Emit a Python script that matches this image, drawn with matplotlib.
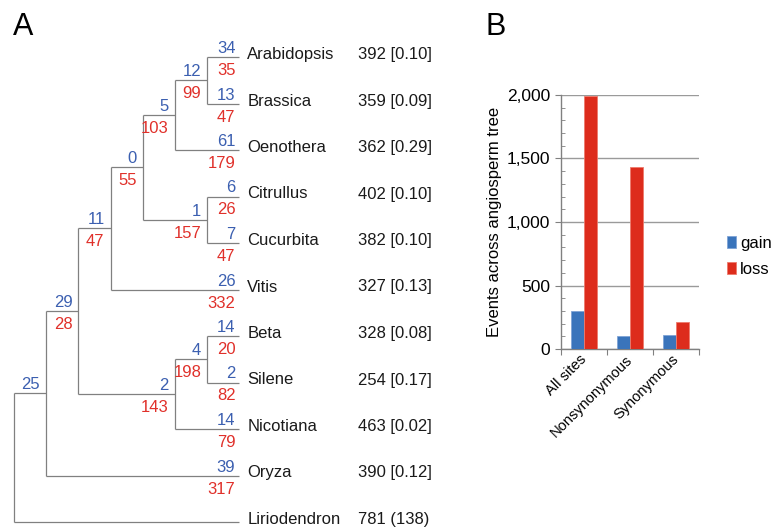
import matplotlib
matplotlib.use("Agg")
import matplotlib.pyplot as plt
from matplotlib.transforms import ScaledTranslation

plt.rcParams["font.family"] = ["Liberation Sans", "DejaVu Sans"]

# ---- panel A data: cladogram with gain / loss per branch ----
leaves = ["Arabidopsis", "Brassica", "Oenothera", "Citrullus", "Cucurbita", "Vitis",
          "Beta", "Silene", "Nicotiana", "Oryza", "Liriodendron"]
leaf_counts = ["392 [0.10]", "359 [0.09]", "362 [0.29]", "402 [0.10]", "382 [0.10]",
               "327 [0.13]", "328 [0.08]", "254 [0.17]", "463 [0.02]", "390 [0.12]",
               "781 (138)"]
leaf_gain = [34, 13, 61, 6, 7, 26, 14, 2, 14, 39, None]
leaf_loss = [35, 47, 179, 26, 47, 332, 20, 82, 79, 317, None]

# internal nodes: name -> (children, gain, loss)
clades = {
    "n1": (("Arabidopsis", "Brassica"), 12, 99),
    "n2": (("n1", "Oenothera"), 5, 103),
    "n3": (("Citrullus", "Cucurbita"), 1, 157),
    "n4": (("n2", "n3"), 0, 55),
    "n5": (("n4", "Vitis"), 11, 47),
    "n6": (("Beta", "Silene"), 4, 198),
    "n7": (("n6", "Nicotiana"), 2, 143),
    "n8": (("n5", "n7"), 29, 28),
    "n9": (("n8", "Oryza"), 25, None),
    "root": (("n9", "Liriodendron"), None, None),
}

# ---- panel B data ----
categories = ["All sites", "Nonsynonymous", "Synonymous"]
gain = [300, 100, 113]
loss = [1995, 1430, 213]

BLUE_T, RED_T = "#3b5fb0", "#e0302a"
BLUE_B, RED_B = "#3a74bb", "#dd2c1c"
LINE = "#808080"

fig = plt.figure(figsize=(7.72, 5.27), dpi=100)

# ================= A =================
axA = fig.add_axes([0, 0, 470 / 772, 1])
axA.axis("off")
axA.set_xlim(-14 / 32.2, (470 - 14) / 32.2)
axA.set_ylim((527 - 57) / 46.5, -57 / 46.5)

pos = {}  # name -> (level, y)
for i, nm in enumerate(leaves):
    pos[nm] = (7, i)
parent = {}
for nm, (kids, g, l) in clades.items():
    lv = min(pos[k][0] for k in kids) - 1
    ys = [pos[k][1] for k in kids]
    y = ys[0] if nm == "root" else sum(ys) / len(ys)
    pos[nm] = (lv, y)
    for k in kids:
        parent[k] = nm

# vertical connectors
for nm, (kids, g, l) in clades.items():
    lv, _ = pos[nm]
    ys = [pos[k][1] for k in kids]
    axA.plot([lv, lv], [min(ys), max(ys)], color=LINE, lw=0.9, solid_capstyle="butt")
# horizontal branches
for nm, par in parent.items():
    lv, y = pos[nm]
    axA.plot([pos[par][0], lv], [y, y], color=LINE, lw=0.9, solid_capstyle="butt")

def branch_labels(nm, g, l, dx):
    lv, y = pos[nm]
    if g is not None:
        axA.annotate(str(g), (lv, y), xytext=(dx, 4), textcoords="offset pixels",
                     ha="right", va="baseline", color=BLUE_T, fontsize=12)
    if l is not None:
        axA.annotate(str(l), (lv, y), xytext=(dx, -18), textcoords="offset pixels",
                     ha="right", va="baseline", color=RED_T, fontsize=12)

for nm, (kids, g, l) in clades.items():
    branch_labels(nm, g, l, -6)
for i, nm in enumerate(leaves):
    branch_labels(nm, leaf_gain[i], leaf_loss[i], -4)
    lv, y = pos[nm]
    axA.annotate(nm, (lv, y), xytext=(8, -2), textcoords="offset pixels",
                 ha="left", va="baseline", fontsize=12, color="#1a1a1a")
    axA.annotate(leaf_counts[i], (lv, y), xytext=(119, -2), textcoords="offset pixels",
                 ha="left", va="baseline", fontsize=12, color="#1a1a1a")

# ================= B =================
axB = fig.add_axes([561 / 772, (527 - 349) / 527, (699 - 561) / 772, (349 - 95) / 527])
x = list(range(len(categories)))
w = 0.28
axB.bar([v - w / 2 for v in x], gain, w, color=BLUE_B, edgecolor="#7fa3d6", lw=0.6,
        label="gain", zorder=3)
axB.bar([v + w / 2 for v in x], loss, w, color=RED_B, edgecolor="#ee7a6c", lw=0.6,
        label="loss", zorder=3)
axB.set_xlim(-0.5, 2.5)
axB.set_ylim(0, 2000)
axB.set_yticks([0, 500, 1000, 1500, 2000])
axB.set_yticklabels(["0", "500", "1,000", "1,500", "2,000"], fontsize=12.5)
axB.set_yticks(range(0, 2001, 100), minor=True)
axB.yaxis.grid(True, which="major", color="#9a9a9a", lw=1, zorder=0)
axB.set_xticks([-0.5, 0.5, 1.5, 2.5])
axB.set_xticklabels([])
axB.set_xticks(x, minor=True)
axB.set_xticklabels(categories, minor=True, fontsize=10.5)
shift = ScaledTranslation(5 / 72, 0, fig.dpi_scale_trans)
for lbl in axB.get_xticklabels(minor=True):
    lbl.set(rotation=45, ha="right", va="center", rotation_mode="anchor")
    lbl.set_transform(lbl.get_transform() + shift)
axB.tick_params(axis="x", which="minor", length=0, pad=6)
axB.tick_params(axis="x", which="major", length=4, direction="out", color=LINE)
axB.tick_params(axis="y", which="major", length=4, direction="out", color=LINE, pad=4)
axB.tick_params(axis="y", which="minor", length=3, direction="in", color=LINE)
for s in ("top", "right"):
    axB.spines[s].set_visible(False)
for s in ("left", "bottom"):
    axB.spines[s].set_color(LINE)
    axB.spines[s].set_linewidth(1)
axB.set_ylabel("Events across angiosperm tree", fontsize=12)
axB.yaxis.set_label_coords(-0.43, 0.5)
axB.legend(loc="upper left", bbox_to_anchor=(727 / 772, 1 - 236 / 527),
           bbox_transform=fig.transFigure, frameon=False, fontsize=12,
           handlelength=0.55, handleheight=0.7, handletextpad=0.25,
           labelspacing=0.65, borderpad=0, borderaxespad=0)

fig.text(13 / 772, 1 - 35 / 527, "A", fontsize=22, va="baseline")
fig.text(485 / 772, 1 - 35 / 527, "B", fontsize=22, va="baseline")

fig.savefig("out.png", dpi=100)
